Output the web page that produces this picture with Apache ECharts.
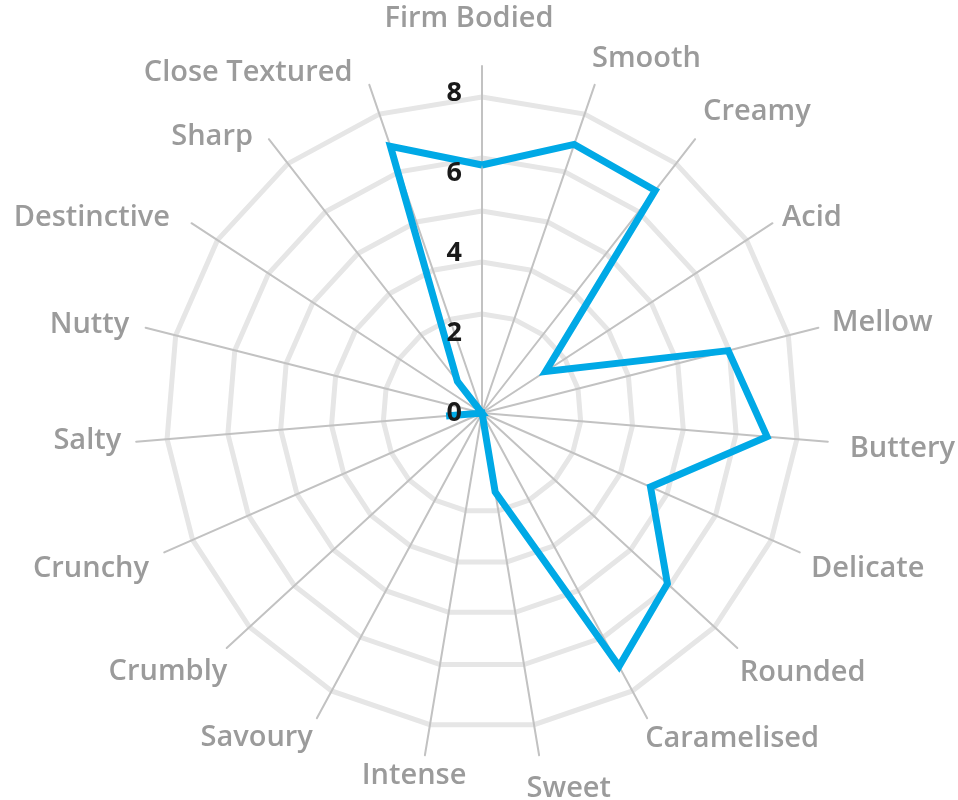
<!DOCTYPE html>
<html><head><meta charset="utf-8">
<script src="https://cdn.jsdelivr.net/npm/echarts@6/dist/echarts.min.js"></script>
<style>html,body{margin:0;padding:0;background:#fff}#c{width:958px;height:800px}</style>
</head><body><div id="c"></div>
<script>
// ---- data (clockwise from top) ----
const categories = ['Firm Bodied','Smooth','Creamy','Acid','Mellow','Buttery','Delicate','Rounded','Caramelised','Sweet','Intense','Savoury','Crumbly','Crunchy','Salty','Nutty','Destinctive','Sharp','Close Textured'];
const values = [6.2,7.1,7.05,1.9,6.35,7.15,4.6,6.3,7.2,2.0,0,0,0,0,0.9,0,0,1.0,7.05];
const tickValues = [0,2,4,6,8];

// ---- layout ----
const CENTER = [482, 413];
const ringRadii = [99,151,202,255,316];
const AXIS_RADIUS = 347;
const LABEL_RADIUS = 320;
const NAME_GAP = 21;
const NAME_LH = 30;
// fine offsets [dx, dy] for each category name (px), same order as categories
const nameShift = [[-13,-11],[-9.5,-6],[-5,-11],[-8,6],[-7,0],[1,5],[-8,8],[-13,10],[-12,2],[-16,13],
                   [45,0],[6,1],[16,9],[4,8],[6,-3],[4,2],[-4,6],[-3,14],[-10,8]];

const N = categories.length;
// ECharts lays indicators counter-clockwise; reorder to get clockwise
const order = [0];
for (let k = N - 1; k >= 1; k--) order.push(k);

function nameStyle(i) {
  const [dx, dy] = nameShift[i];
  let pt = 0, pr = 0, pb = 0, pl = 0;
  if (i === 0) { // center / bottom
    pb = -dy;
    if (dx > 0) pl = 2 * dx; else pr = -2 * dx;
    return { padding: [pt, pr, pb, pl], lineHeight: NAME_LH };
  }
  pb = -dy - NAME_LH / 2;
  if (i <= N / 2) pl = dx; else pr = -dx;
  return { padding: [pt, pr, pb, pl], verticalAlign: 'bottom', lineHeight: NAME_LH };
}

const tMax = tickValues[tickValues.length - 1];

const radars = [];
ringRadii.forEach(r => {
  radars.push({
    center: CENTER, radius: r, splitNumber: 1, shape: 'polygon',
    indicator: order.map(i => ({ name: '', max: 1, min: 0 })),
    axisName: { show: false },
    axisLine: { show: false }, axisTick: { show: false }, axisLabel: { show: false },
    splitArea: { show: false },
    splitLine: { show: true, lineStyle: { color: '#e6e6e6', width: 5 } }
  });
});
radars.push({
  center: CENTER, radius: AXIS_RADIUS, splitNumber: 1, shape: 'polygon',
  indicator: order.map(i => ({ name: categories[i], max: 1, min: 0, nameTextStyle: nameStyle(i) })),
  nameGap: NAME_GAP,
  axisName: { show: true, color: '#9b9b9b', fontSize: 29, fontWeight: 600, fontFamily: 'Open Sans' },
  axisLine: { show: true, lineStyle: { color: '#c2c2c2', width: 2 } },
  axisTick: { show: false }, axisLabel: { show: false },
  splitArea: { show: false }, splitLine: { show: false }
});
const dataRadarIndex = radars.length;
radars.push({
  center: CENTER, radius: LABEL_RADIUS, splitNumber: tickValues.length - 1, shape: 'polygon', z: 6,
  indicator: order.map((i, k) => {
    const ind = { name: '', max: tMax, min: tickValues[0] };
    if (k === 0) ind.axisLabel = { show: true, color: '#1a1a1a', fontSize: 27, fontWeight: 'bold', fontFamily: 'Open Sans', margin: 20, showMinLabel: true };
    return ind;
  }),
  axisName: { show: false },
  axisLine: { show: false }, axisTick: { show: false }, axisLabel: { show: false },
  splitArea: { show: false }, splitLine: { show: false }
});

const chart = echarts.init(document.getElementById('c'), null, { renderer: 'canvas' });
chart.setOption({
  animation: false,
  radar: radars,
  series: [{
    type: 'radar', radarIndex: dataRadarIndex, z: 3,
    symbol: 'none',
    lineStyle: { color: '#00a9e6', width: 7, join: 'miter' },
    data: [{ value: order.map(i => values[i]) }]
  }]
});
</script></body></html>
